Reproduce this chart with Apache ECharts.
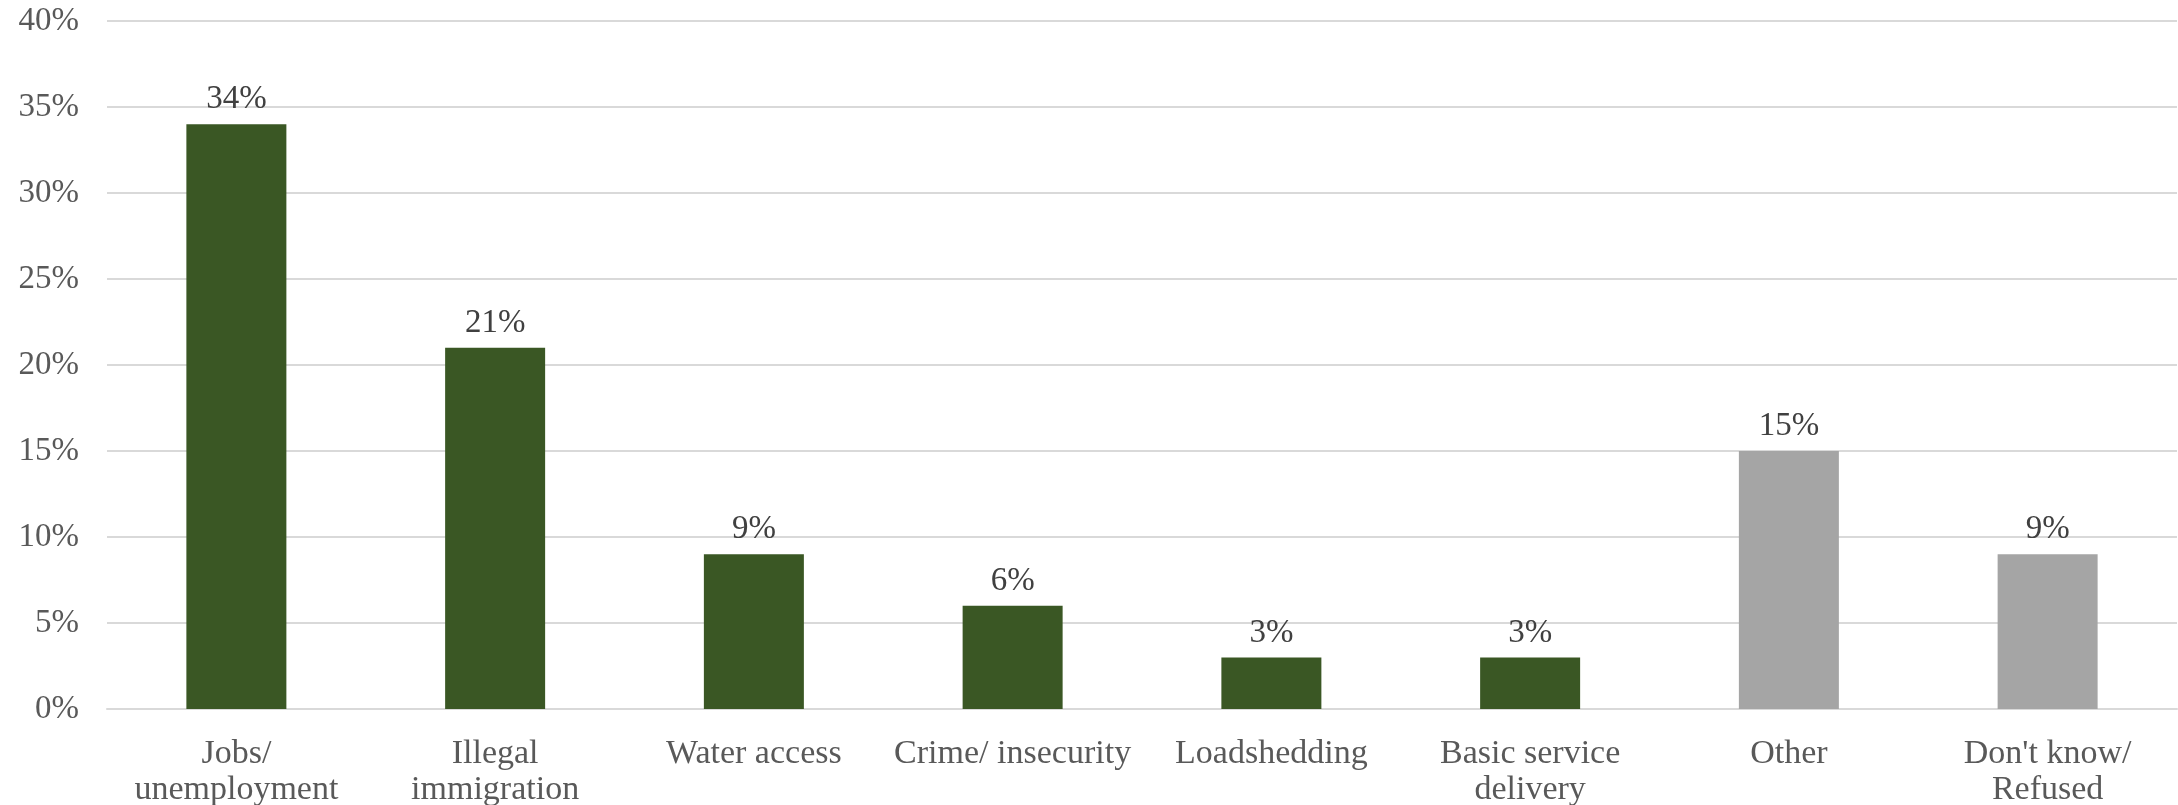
<!DOCTYPE html>
<html><head><meta charset="utf-8">
<script src="https://cdn.jsdelivr.net/npm/echarts@6/dist/echarts.min.js"></script>
<style>html,body{margin:0;padding:0;background:#fff}#c{width:2178px;height:805px}</style>
</head><body><div id="c"></div>
<script>
const categories = ["Jobs/\nunemployment","Illegal\nimmigration","Water access","Crime/ insecurity","Loadshedding","Basic service\ndelivery","Other","Don't know/\nRefused"];
const values = [34,21,9,6,3,3,15,9];
const barColors = ["#3A5724","#3A5724","#3A5724","#3A5724","#3A5724","#3A5724","#A5A5A5","#A5A5A5"];
const yTicks = [0,5,10,15,20,25,30,35,40];

const font = "'Liberation Serif', serif";
const chart = echarts.init(document.getElementById('c'));
chart.setOption({
  animation:false,
  grid:{left:107,right:1,top:21,bottom:96,containLabel:false,outerBoundsMode:'none'},
  xAxis:{type:'category',data:categories,
    axisLine:{show:true,lineStyle:{color:'#D9D9D9',width:2}},axisTick:{show:false},
    axisLabel:{color:'#595959',fontFamily:font,fontSize:34,lineHeight:36,margin:27,interval:0}},
  yAxis:{type:'value',min:yTicks[0],max:yTicks[yTicks.length-1],interval:5,
    axisLine:{show:false},axisTick:{show:false},
    splitLine:{lineStyle:{color:'#D9D9D9',width:2}},
    axisLabel:{color:'#595959',fontFamily:font,fontSize:33,margin:28,formatter:v=>v+'%'}},
  series:[{type:'bar',barWidth:100,
    data:values.map((v,i)=>({value:v,itemStyle:{color:barColors[i]}})),
    label:{show:true,position:'top',distance:8,color:'#404040',fontFamily:font,fontSize:33,formatter:p=>p.value+'%'}}]
});
</script></body></html>
